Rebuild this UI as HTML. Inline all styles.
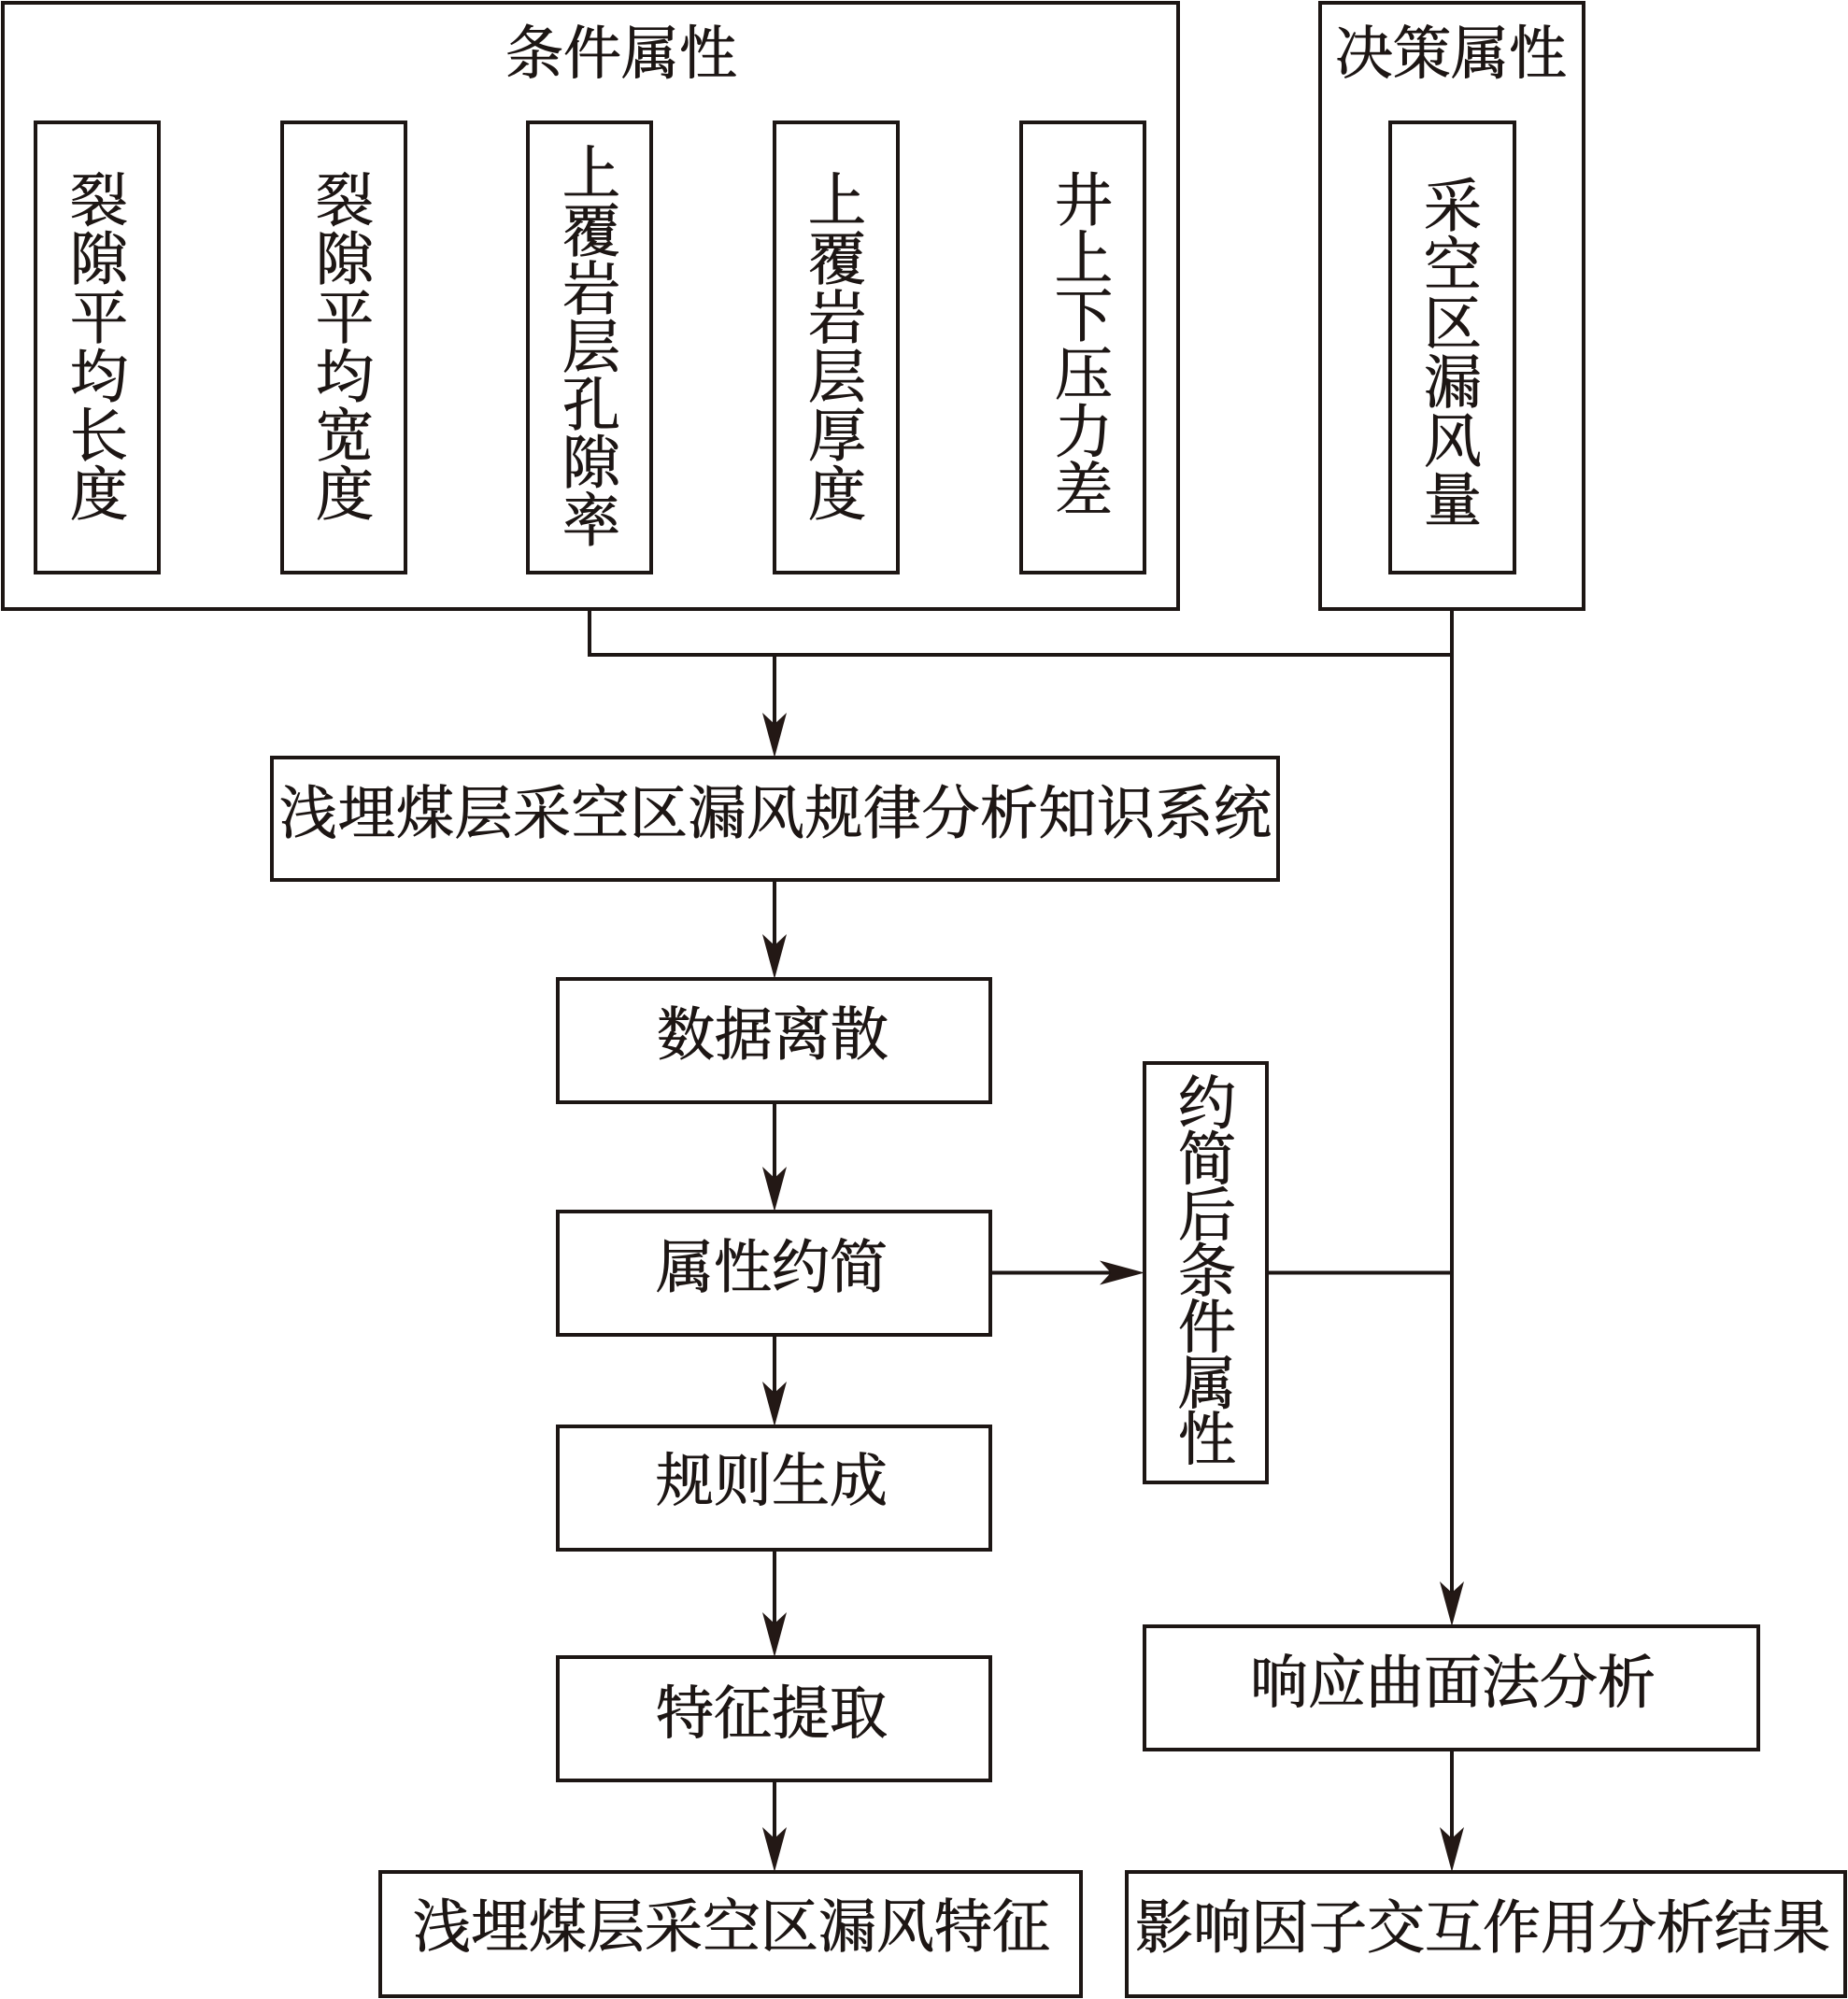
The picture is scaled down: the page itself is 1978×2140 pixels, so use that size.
<!DOCTYPE html>
<html>
<head>
<meta charset="utf-8">
<style>
  html, body { margin: 0; padding: 0; background: #ffffff; }
  body { width: 1978px; height: 2140px; overflow: hidden; }
  svg { display: block; }
  text { font-family: "Liberation Serif", "Noto Serif CJK SC", "Noto Sans CJK SC", serif; font-size: 62px; fill: #1d1614; stroke: #1d1614; stroke-width: 0.9px; }
</style>
</head>
<body>
<svg width="1978" height="2140" viewBox="0 0 1978 2140" xmlns="http://www.w3.org/2000/svg">
  <g fill="none" stroke="#1d1614" stroke-width="4">
    <!-- Condition attributes outer box -->
    <rect x="3" y="3" width="1258" height="649"/>
    <!-- inner boxes -->
    <rect x="38" y="131" width="132" height="482"/>
    <rect x="302" y="131" width="132" height="482"/>
    <rect x="565" y="131" width="132" height="482"/>
    <rect x="829" y="131" width="132" height="482"/>
    <rect x="1093" y="131" width="132" height="482"/>
    <!-- Decision attribute box -->
    <rect x="1413" y="3" width="282" height="649"/>
    <rect x="1488" y="131" width="133" height="482"/>
    <!-- system box -->
    <rect x="291" y="811" width="1077" height="131"/>
    <!-- left column boxes -->
    <rect x="597" y="1048" width="463" height="132"/>
    <rect x="597" y="1297" width="463" height="132"/>
    <rect x="597" y="1527" width="463" height="132"/>
    <rect x="597" y="1774" width="463" height="132"/>
    <rect x="407" y="2004" width="750" height="133"/>
    <!-- reduced attributes box -->
    <rect x="1225" y="1138" width="131" height="449"/>
    <!-- response surface box -->
    <rect x="1225" y="1741" width="657" height="132"/>
    <!-- result box -->
    <rect x="1206" y="2004" width="769" height="133"/>

    <!-- connectors -->
    <line x1="631" y1="652" x2="631" y2="701"/>
    <line x1="629" y1="701" x2="1556" y2="701"/>
    <line x1="1554" y1="652" x2="1554" y2="1720"/>
    <line x1="829" y1="701" x2="829" y2="790"/>
    <line x1="829" y1="942" x2="829" y2="1025"/>
    <line x1="829" y1="1180" x2="829" y2="1275"/>
    <line x1="829" y1="1429" x2="829" y2="1505"/>
    <line x1="829" y1="1659" x2="829" y2="1752"/>
    <line x1="829" y1="1906" x2="829" y2="1982"/>
    <line x1="1060" y1="1362.5" x2="1200" y2="1362.5"/>
    <line x1="1356" y1="1362.5" x2="1556" y2="1362.5"/>
    <line x1="1554" y1="1873" x2="1554" y2="1980"/>
  </g>

  <!-- arrowheads -->
  <g fill="#231815" stroke="none">
    <path d="M829 811 L816 763 L829 775 L842 763 Z"/>
    <path d="M829 1048 L816 1000 L829 1012 L842 1000 Z"/>
    <path d="M829 1297 L816 1249 L829 1261 L842 1249 Z"/>
    <path d="M829 1527 L816 1479 L829 1491 L842 1479 Z"/>
    <path d="M829 1774 L816 1726 L829 1738 L842 1726 Z"/>
    <path d="M829 2004 L816 1956 L829 1968 L842 1956 Z"/>
    <path d="M1554 1741 L1541 1693 L1554 1705 L1567 1693 Z"/>
    <path d="M1554 2004 L1541 1956 L1554 1968 L1567 1956 Z"/>
    <path d="M1225 1362.5 L1177 1349.5 L1189 1362.5 L1177 1375.5 Z"/>
  </g>

  <!-- titles -->
  <text x="665" y="58.5" text-anchor="middle" dominant-baseline="central">条件属性</text>
  <text x="1553" y="58.5" text-anchor="middle" dominant-baseline="central">决策属性</text>

  <!-- vertical texts -->
  <g text-anchor="middle" dominant-baseline="central">
    <text x="106" y="216">裂</text>
    <text x="106" y="279">隙</text>
    <text x="106" y="342">平</text>
    <text x="106" y="405">均</text>
    <text x="106" y="468">长</text>
    <text x="106" y="531">度</text>

    <text x="369" y="216">裂</text>
    <text x="369" y="279">隙</text>
    <text x="369" y="342">平</text>
    <text x="369" y="405">均</text>
    <text x="369" y="468">宽</text>
    <text x="369" y="531">度</text>

    <text x="633" y="187">上</text>
    <text x="633" y="249">覆</text>
    <text x="633" y="311">岩</text>
    <text x="633" y="373">层</text>
    <text x="633" y="435">孔</text>
    <text x="633" y="497">隙</text>
    <text x="633" y="559">率</text>

    <text x="896" y="216">上</text>
    <text x="896" y="279">覆</text>
    <text x="896" y="342">岩</text>
    <text x="896" y="405">层</text>
    <text x="896" y="468">厚</text>
    <text x="896" y="531">度</text>

    <text x="1160" y="216">井</text>
    <text x="1160" y="278">上</text>
    <text x="1160" y="340">下</text>
    <text x="1160" y="402">压</text>
    <text x="1160" y="464">力</text>
    <text x="1160" y="526">差</text>

    <text x="1555" y="222">采</text>
    <text x="1555" y="285">空</text>
    <text x="1555" y="348">区</text>
    <text x="1555" y="411">漏</text>
    <text x="1555" y="474">风</text>
    <text x="1555" y="537">量</text>

    <text x="1292" y="1182.5">约</text>
    <text x="1292" y="1242.5">简</text>
    <text x="1292" y="1302.5">后</text>
    <text x="1292" y="1362.5">条</text>
    <text x="1292" y="1422.5">件</text>
    <text x="1292" y="1482.5">属</text>
    <text x="1292" y="1542.5">性</text>
  </g>

  <!-- horizontal texts -->
  <text x="299" y="872" dominant-baseline="central" textLength="1062" lengthAdjust="spacing">浅埋煤层采空区漏风规律分析知识系统</text>
  <text x="827" y="1109" text-anchor="middle" dominant-baseline="central">数据离散</text>
  <text x="826" y="1358" text-anchor="middle" dominant-baseline="central">属性约简</text>
  <text x="826" y="1586.5" text-anchor="middle" dominant-baseline="central">规则生成</text>
  <text x="826" y="1835.5" text-anchor="middle" dominant-baseline="central">特征提取</text>
  <text x="783" y="2064" text-anchor="middle" dominant-baseline="central">浅埋煤层采空区漏风特征</text>
  <text x="1555" y="1802.5" text-anchor="middle" dominant-baseline="central">响应曲面法分析</text>
  <text x="1587" y="2065" text-anchor="middle" dominant-baseline="central">影响因子交互作用分析结果</text>
</svg>
</body>
</html>
